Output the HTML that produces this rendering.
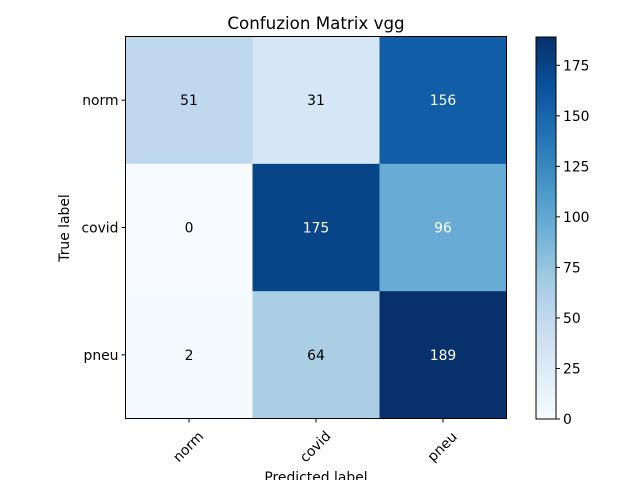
<!DOCTYPE html>
<html><head><meta charset="utf-8"><style>
body{margin:0;background:#fff;}
svg{display:block;font-family:"DejaVu Sans","Liberation Sans",sans-serif;}
</style></head><body>
<svg id="chart" width="640" height="480" xmlns="http://www.w3.org/2000/svg">
<text x="316" y="29" font-size="16.7" text-anchor="middle">Confuzion Matrix vgg</text>
<g id="cells"></g>
<g id="axes"></g>
<defs><linearGradient id="cbgrad" x1="0" y1="1" x2="0" y2="0">
<stop offset="0" stop-color="#f7fbff"/><stop offset="0.125" stop-color="#deebf7"/><stop offset="0.25" stop-color="#c6dbef"/><stop offset="0.375" stop-color="#9ecae1"/><stop offset="0.5" stop-color="#6baed6"/><stop offset="0.625" stop-color="#4292c6"/><stop offset="0.75" stop-color="#2171b5"/><stop offset="0.875" stop-color="#08519c"/><stop offset="1" stop-color="#08306b"/>
</linearGradient></defs>
<rect x="536" y="37" width="20" height="382" fill="url(#cbgrad)" stroke="#000" stroke-width="1"/>
<g id="cbticks"></g>
<text x="316" y="482" font-size="13.9" text-anchor="middle">Predicted label</text>
<text transform="translate(69,228) rotate(-90)" font-size="13.9" text-anchor="middle">True label</text>
</svg>
<script>
const classes = ["norm","covid","pneu"];
const rowNorm = [51,31,156];
const rowCovid = [0,175,96];
const rowPneu = [2,64,189];
const cbTicks = [0,25,50,75,100,125,150,175];
const matrix = [rowNorm,rowCovid,rowPneu];
const NS="http://www.w3.org/2000/svg";
const L=125.5,T=36.5,W=381,H=382;
const FS=13.9;
const vmax=Math.max(...matrix.flat()), vmin=Math.min(0,...matrix.flat());
const stops=["#f7fbff","#deebf7","#c6dbef","#9ecae1","#6baed6","#4292c6","#2171b5","#08519c","#08306b"].map(h=>[1,3,5].map(i=>parseInt(h.substr(i,2),16)));
function cmap(v){let t=(v-vmin)/(vmax-vmin);t=Math.max(0,Math.min(1,t))*8;let i=Math.min(7,Math.floor(t)),f=t-i;
 const c=stops[i].map((a,k)=>Math.round(a+(stops[i+1][k]-a)*f));return `rgb(${c})`;}
const n=classes.length, cw=W/n, ch=H/n;
function xs(j){return L+j*cw;} function ys(i){return T+i*ch;}
const cells=document.getElementById('cells'), axes=document.getElementById('axes');
function mk(tag,attrs,parent){const e=document.createElementNS(NS,tag);for(const k in attrs)e.setAttribute(k,attrs[k]);parent.appendChild(e);return e;}
matrix.forEach((row,i)=>row.forEach((v,j)=>{
 const r=mk('rect',{x:xs(j),y:ys(i),width:cw+0.5,height:ch+0.5,fill:cmap(v)},cells);
 
 
 const t=mk('text',{x:xs(j)+cw/2,y:ys(i)+ch/2+5,'font-size':FS,'text-anchor':'middle',fill:v>vmax/2?'#fff':'#000'},cells);
 t.textContent=v;
 
 
}));
const fr=mk('rect',{x:L,y:T,width:W,height:H,fill:'none',stroke:'#000','stroke-width':1},axes);


classes.forEach((c,k)=>{
 const cx=xs(k)+cw/2, cy=ys(k)+ch/2;
 mk('line',{x1:cx,y1:T+H,x2:cx,y2:T+H+4,stroke:'#000'},axes);
 const tx=mk('text',{transform:`translate(${cx-1},${T+H+28}) rotate(-45)`,'font-size':FS,'text-anchor':'middle',y:5},axes);
 tx.textContent=c;
 
 
 mk('line',{x1:L,y1:cy,x2:L-4,y2:cy,stroke:'#000'},axes);
 const ty=mk('text',{x:L-7,y:cy+5,'font-size':FS,'text-anchor':'end'},axes);
 ty.textContent=c;
 
 
});
const cb=document.getElementById('cbticks');
cbTicks.forEach(v=>{
 const y=419-(v-vmin)/(vmax-vmin)*382;
 mk('line',{x1:556,y1:y,x2:560,y2:y,stroke:'#000'},cb);
 const t=mk('text',{x:563,y:y+5,'font-size':FS},cb);
 t.textContent=v;
 
 
});
</script>
</body></html>
